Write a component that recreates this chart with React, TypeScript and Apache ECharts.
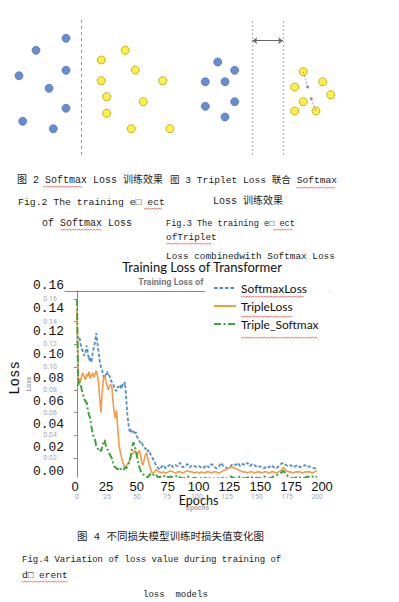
import React, { useEffect, useRef } from 'react';
import * as echarts from 'echarts';

// ---------- Line chart data ----------
const epochs = [
  0, 1, 2, 3, 4, 5, 6, 7, 8, 9, 10, 11, 12, 13, 14, 15, 16, 17, 18, 19,
  20, 21, 22, 23, 24, 25, 26, 27, 28, 29, 30, 31, 32, 33, 34, 35, 36, 37, 38, 39,
  40, 41, 42, 43, 44, 45, 46, 47, 48, 49, 50, 51, 52, 53, 54, 55, 56, 57, 58, 59,
  60, 61, 62, 63, 64, 65, 66, 67, 68, 69, 70,
  72, 74, 76, 78, 80, 82, 84, 86, 88, 90, 92, 94, 96, 98, 100, 102, 104, 106, 108, 110,
  112, 114, 116, 118, 120, 122, 124, 126, 128, 130, 132, 134, 136, 138, 140, 142, 144, 146, 148, 150,
  152, 154, 156, 158, 160, 162, 164, 166, 168, 170, 172, 174, 176, 178, 180, 182, 184, 186, 188, 190,
  192, 194, 196, 198, 200,
];

const softmaxLoss = [
  0.128, 0.126, 0.127, 0.120, 0.116, 0.114, 0.110, 0.112, 0.119, 0.113,
  0.106, 0.109, 0.104, 0.112, 0.118, 0.122, 0.130, 0.121, 0.113, 0.105,
  0.100, 0.097, 0.092, 0.090, 0.094, 0.096, 0.092, 0.093, 0.089, 0.087,
  0.086, 0.082, 0.080, 0.079, 0.083, 0.082, 0.084, 0.081, 0.085, 0.084,
  0.087, 0.072, 0.058, 0.049, 0.043, 0.045, 0.042, 0.044, 0.041, 0.043,
  0.039, 0.037, 0.035, 0.033, 0.034, 0.031, 0.030, 0.028, 0.029, 0.026,
  0.027, 0.024, 0.022, 0.020, 0.018, 0.016, 0.013, 0.012, 0.011, 0.010,
  0.012,
  0.014, 0.011, 0.013, 0.015, 0.012, 0.014, 0.013, 0.016, 0.012, 0.013,
  0.015, 0.012, 0.014, 0.013, 0.012, 0.013, 0.011, 0.012, 0.014, 0.012,
  0.015, 0.013, 0.011, 0.012, 0.016, 0.013, 0.012, 0.011, 0.013, 0.015,
  0.014, 0.016, 0.013, 0.015, 0.014, 0.016, 0.013, 0.015, 0.014, 0.012,
  0.013, 0.012, 0.011, 0.013, 0.012, 0.014, 0.012, 0.011, 0.013, 0.015,
  0.016, 0.014, 0.013, 0.014, 0.012, 0.013, 0.014, 0.012, 0.013, 0.014,
  0.012, 0.013, 0.012, 0.011, 0.012,
];

const tripleLoss = [
  0.150, 0.086, 0.090, 0.088, 0.093, 0.095, 0.091, 0.089, 0.094, 0.092,
  0.096, 0.090, 0.093, 0.095, 0.091, 0.094, 0.097, 0.093, 0.086, 0.072,
  0.060, 0.078, 0.090, 0.092, 0.088, 0.084, 0.080, 0.083, 0.085, 0.083,
  0.070, 0.060, 0.055, 0.062, 0.045, 0.032, 0.026, 0.021, 0.017, 0.014,
  0.012, 0.013, 0.015, 0.016, 0.019, 0.022, 0.024, 0.025, 0.027, 0.025,
  0.023, 0.025, 0.027, 0.022, 0.016, 0.014, 0.019, 0.023, 0.025, 0.020,
  0.015, 0.012, 0.008, 0.007, 0.007, 0.009, 0.010, 0.009, 0.008, 0.008,
  0.007,
  0.008, 0.007, 0.008, 0.009, 0.008, 0.007, 0.008, 0.008, 0.007, 0.008,
  0.009, 0.008, 0.008, 0.007, 0.008, 0.007, 0.008, 0.007, 0.008, 0.008,
  0.007, 0.008, 0.008, 0.007, 0.008, 0.009, 0.010, 0.011, 0.012, 0.012,
  0.011, 0.010, 0.009, 0.008, 0.008, 0.007, 0.008, 0.008, 0.007, 0.008,
  0.008, 0.007, 0.008, 0.008, 0.007, 0.008, 0.008, 0.007, 0.008, 0.009,
  0.012, 0.009, 0.008, 0.008, 0.007, 0.008, 0.008, 0.008, 0.007, 0.008,
  0.008, 0.008, 0.007, 0.008, 0.009,
];

const tripleSoftmax = [
  0.160, 0.084, 0.089, 0.085, 0.080, 0.076, 0.072, 0.070, 0.069, 0.063,
  0.058, 0.055, 0.048, 0.042, 0.038, 0.036, 0.031, 0.029, 0.027, 0.028,
  0.026, 0.030, 0.034, 0.036, 0.031, 0.028, 0.027, 0.024, 0.022, 0.020,
  0.016, 0.013, 0.012, 0.011, 0.010, 0.012, 0.011, 0.010, 0.009, 0.010,
  0.012, 0.011, 0.013, 0.015, 0.017, 0.023, 0.030, 0.034, 0.031, 0.027,
  0.022, 0.016, 0.012, 0.009, 0.007, 0.006, 0.005, 0.004, 0.004, 0.003,
  0.005, 0.006, 0.007, 0.006, 0.005, 0.004, 0.005, 0.004, 0.003, 0.004,
  0.003,
  0.004, 0.005, 0.003, 0.004, 0.003, 0.004, 0.005, 0.003, 0.002, 0.003,
  0.004, 0.003, 0.002, 0.003, 0.002, 0.003, 0.002, 0.003, 0.002, 0.002,
  0.003, 0.002, 0.003, 0.002, 0.002, 0.003, 0.002, 0.003, 0.004, 0.003,
  0.002, 0.003, 0.004, 0.003, 0.002, 0.003, 0.004, 0.003, 0.002, 0.003,
  0.002, 0.003, 0.004, 0.003, 0.002, 0.003, 0.004, 0.005, 0.006, 0.007,
  0.009, 0.006, 0.004, 0.003, 0.002, 0.003, 0.004, 0.003, 0.002, 0.003,
  0.004, 0.003, 0.004, 0.003, 0.004,
];

const seriesNames = ['SoftmaxLoss', 'TripleLoss', 'Triple_Softmax'];
const xTickLabels = [0, 25, 50, 75, 100, 125, 150, 175, 200];
const yTickLabels = [0.02, 0.04, 0.06, 0.08, 0.1, 0.12, 0.14, 0.16];

// ---------- Schematic scatter data (Fig.2 / Fig.3) ----------
const fig2Blue = [[5.6, 11.67], [2.6, 10.47], [5.6, 8.47], [0.9, 7.93], [3.9, 6.67], [5.6, 4.67], [1.27, 3.37], [4.33, 2.63]];
const fig2Yellow = [[11.53, 10.47], [9.13, 9.5], [12.53, 8.5], [9.13, 7.43], [15.27, 7.43], [9.67, 5.83], [13.33, 5.33], [9.67, 4.17], [12.13, 2.63], [16.0, 2.63]];
const fig2Divider = 7.13;
const fig3Blue = [[2.27, 9.3], [3.97, 8.47], [1.03, 7.33], [3.0, 7.33], [1.03, 4.87], [3.97, 5.33], [3.0, 3.8]];
const fig3Yellow = [[10.83, 8.33], [12.77, 7.33], [9.97, 6.8], [13.57, 6.03], [10.83, 5.33], [9.97, 4.4], [12.1, 4.4]];
const fig3Centers = [[11.27, 6.8], [11.63, 5.63]];
const fig3Dividers = [5.73, 8.8];
const fig3ArrowY = 11.43;

// ---------- Caption texts ----------
const MONO = "'Liberation Mono', 'Noto Sans CJK SC', monospace";
const captions: [string, number, number, number][] = [
  ['图 2 Softmax Loss 训练效果', 17, 180, 10],
  ['图 3 Triplet Loss 联合 Softmax', 170, 180, 9.6],
  ['Fig.2 The training e\u25A1 ect', 18, 202, 9.8],
  ['Loss 训练效果', 213, 201, 10],
  ['of Softmax Loss', 42, 223, 10],
  ['Fig.3 The training e\u25A1 ect', 166, 224, 8.6],
  ['ofTriplet', 166, 237, 9.4],
  ['Loss combinedwith Softmax Loss', 166, 256, 9.4],
  ['图 4 不同损失模型训练时损失值变化图', 77, 537, 10.5],
  ['Fig.4 Variation of loss value during training of', 22, 560, 9],
  ['d\u25A1 erent', 22, 575, 9.5],
  ['loss  models', 143, 595, 9],
];
const squiggles: [number, number, number][] = [
  [43, 82, 186], [296, 336, 187], [144, 162, 208], [61, 102, 229], [273, 293, 229],
  [166, 212, 243], [241, 304, 296], [241, 293, 316], [241, 318, 337], [22, 68, 581],
];

const BLUE = '#4d8fd0';
const ORANGE = '#f59a45';
const GREEN = '#3ea33e';

function squiggle(x1: number, x2: number, y: number) {
  const pts: number[][] = [];
  let up = true;
  for (let x = x1; x <= x2; x += 1.5) {
    pts.push([x, up ? y : y + 1.2]);
    up = !up;
  }
  return { type: 'polyline', z: 30, shape: { points: pts }, style: { stroke: '#e0473c', lineWidth: 0.7, fill: null } };
}

export default function App() {
  const ref = useRef<HTMLDivElement>(null);
  useEffect(() => {
    document.body.style.margin = '0';
    if (!ref.current) return;
    const chart = echarts.init(ref.current, null, { renderer: 'svg' });
    const pair = (vals: number[]) => epochs.map((e, i) => [e, vals[i]]);
    const grayLabel = { color: '#a8a8a8', fontSize: 7, fontFamily: 'Roboto' };
    const option: any = {
      animation: false,
      backgroundColor: '#ffffff',
      grid: [
        { left: 65, top: 291, width: 265, height: 186 },
        { left: 74, top: 285, width: 248, height: 186 },
        { left: 10, top: 20, width: 170, height: 135 },
        { left: 195, top: 20, width: 200, height: 135 },
      ],
      xAxis: [
        {
          gridIndex: 0, type: 'value', min: -10, max: 210.8,
          axisLine: { show: false }, axisTick: { show: false }, splitLine: { show: false },
          axisLabel: { customValues: xTickLabels, margin: 16, ...grayLabel },
          name: 'Epochs', nameLocation: 'middle', nameGap: 27, nameTextStyle: { ...grayLabel, fontWeight: 'bold' },
        },
        {
          gridIndex: 0, type: 'value', position: 'top', min: -10, max: 210.8,
          axisLine: { show: true, lineStyle: { color: '#8a8a8a', width: 1 } },
          axisTick: { show: false }, axisLabel: { show: false }, splitLine: { show: false },
        },
        {
          gridIndex: 1, type: 'value', min: 0, max: 200, interval: 25,
          axisLine: { show: false }, axisTick: { show: false }, splitLine: { show: false },
          axisLabel: { color: '#111', fontSize: 13, fontFamily: 'Liberation Sans', margin: 9 },
          name: 'Epochs', nameLocation: 'middle', nameGap: 17,
          nameTextStyle: { color: '#111', fontSize: 12.5, fontFamily: 'Lato' },
        },
        { gridIndex: 2, type: 'value', min: 0, max: 17, show: false },
        { gridIndex: 3, type: 'value', min: 0, max: 20, show: false },
      ],
      yAxis: [
        {
          gridIndex: 0, type: 'value', min: 0.0035, max: 0.167,
          axisLine: { show: true, lineStyle: { color: '#666', width: 1 } },
          axisTick: { show: true, customValues: yTickLabels, length: 3, lineStyle: { color: '#888' } },
          splitLine: { show: false },
          axisLabel: { customValues: yTickLabels, margin: 8, formatter: (v: number) => v.toFixed(2), ...grayLabel },
          name: 'Loss', nameLocation: 'middle', nameGap: 24, nameTextStyle: { ...grayLabel, fontWeight: 'bold' },
        },
        {
          gridIndex: 0, type: 'value', position: 'right', min: 0.0035, max: 0.167,
          axisLine: { show: true, lineStyle: { color: '#8a8a8a', width: 1 } },
          axisTick: { show: false }, axisLabel: { show: false }, splitLine: { show: false },
        },
        {
          gridIndex: 1, type: 'value', min: 0, max: 0.16, interval: 0.02,
          axisLine: { show: false }, axisTick: { show: false }, splitLine: { show: false },
          axisLabel: { color: '#111', fontSize: 13, fontFamily: "'Liberation Mono', monospace", margin: 11, formatter: (v: number) => v.toFixed(2) },
          name: 'Loss', nameLocation: 'middle', nameGap: 46,
          nameTextStyle: { color: '#111', fontSize: 14, fontFamily: "'Liberation Mono', monospace" },
        },
        { gridIndex: 2, type: 'value', min: 0, max: 13.5, show: false },
        { gridIndex: 3, type: 'value', min: 0, max: 13.5, show: false },
      ],
      legend: {
        data: seriesNames,
        orient: 'vertical', left: 205, top: 272,
        itemWidth: 22, itemHeight: 14, itemGap: 6,
        padding: [10, 11, 8, 8],
        backgroundColor: '#ffffff',
        z: 10,
        itemStyle: { opacity: 0 },
        textStyle: { color: '#111', fontSize: 12, fontFamily: 'Lato' },
      },
      graphic: [
        { type: 'text', x: 197, y: 282, z: 1, style: { text: 'Training Loss of Transformer', fill: '#7a7a7a', font: 'bold 9px Roboto', textAlign: 'center', textVerticalAlign: 'middle' } },
        { type: 'text', x: 202, y: 267, z: 20, style: { text: 'Training Loss of Transformer', fill: '#111', font: '13px Lato', textAlign: 'center', textVerticalAlign: 'middle' } },
        ...captions.map(([t, x, y, fs]) => ({
          type: 'text', x, y, z: 20,
          style: { text: t, fill: '#222', font: `${fs}px ${MONO}`, textVerticalAlign: 'middle' },
        })),
        ...squiggles.map(([a, b, y]) => squiggle(a, b, y)),
      ],
      series: [
        {
          name: 'SoftmaxLoss', type: 'line', xAxisIndex: 0, yAxisIndex: 0, data: pair(softmaxLoss),
          symbol: 'none', color: BLUE, lineStyle: { color: BLUE, width: 1.8, type: [3.5, 2] }, z: 2,
        },
        {
          name: 'TripleLoss', type: 'line', xAxisIndex: 0, yAxisIndex: 0, data: pair(tripleLoss),
          symbol: 'none', color: ORANGE, lineStyle: { color: ORANGE, width: 1.6 }, z: 3,
        },
        {
          name: 'Triple_Softmax', type: 'line', xAxisIndex: 0, yAxisIndex: 0, data: pair(tripleSoftmax),
          symbol: 'none', color: GREEN, lineStyle: { color: GREEN, width: 2, type: [7, 2.5, 2, 2.5] }, z: 4,
        },
        {
          type: 'scatter', xAxisIndex: 3, yAxisIndex: 3, data: fig2Blue, symbolSize: 8,
          itemStyle: { color: '#4472c4', borderColor: '#3a64b0', borderWidth: 0.8 },
          markLine: {
            silent: true, symbol: 'none', label: { show: false },
            lineStyle: { color: '#9a9a9a', type: [3, 3], width: 1 },
            data: [{ xAxis: fig2Divider }],
          },
        },
        {
          type: 'scatter', xAxisIndex: 3, yAxisIndex: 3, data: fig2Yellow, symbolSize: 8,
          itemStyle: { color: '#ffec1a', borderColor: '#b5a000', borderWidth: 1 },
        },
        {
          type: 'scatter', xAxisIndex: 4, yAxisIndex: 4, data: fig3Blue, symbolSize: 8,
          itemStyle: { color: '#4472c4', borderColor: '#3a64b0', borderWidth: 0.8 },
          markLine: {
            silent: true, symbol: 'none', label: { show: false },
            lineStyle: { color: '#b5b5b5', type: [2, 2], width: 1.3 },
            data: fig3Dividers.map((d) => ({ xAxis: d })),
          },
        },
        {
          type: 'scatter', xAxisIndex: 4, yAxisIndex: 4, data: fig3Yellow, symbolSize: 8,
          itemStyle: { color: '#ffec1a', borderColor: '#b5a000', borderWidth: 1 },
          markLine: {
            silent: true, symbol: ['arrow', 'arrow'], symbolSize: 5, label: { show: false },
            lineStyle: { color: '#666', type: 'solid', width: 1 },
            data: [[{ coord: [fig3Dividers[0], fig3ArrowY] }, { coord: [fig3Dividers[1], fig3ArrowY] }]],
          },
        },
        {
          type: 'scatter', xAxisIndex: 4, yAxisIndex: 4, data: fig3Centers, symbolSize: 3,
          itemStyle: { color: '#777' },
          markLine: {
            silent: true, symbol: 'none', label: { show: false },
            lineStyle: { color: '#888', type: [2, 1.5], width: 0.8 },
            data: [
              [{ coord: fig3Yellow[0] }, { coord: fig3Centers[0] }],
              [{ coord: fig3Centers[1] }, { coord: fig3Yellow[6] }],
            ],
          },
        },
      ],
    };
    chart.setOption(option);
    return () => chart.dispose();
  }, []);
  return <div ref={ref} style={{ position: 'absolute', left: 0, top: 0, width: 399, height: 602 }} />;
}
